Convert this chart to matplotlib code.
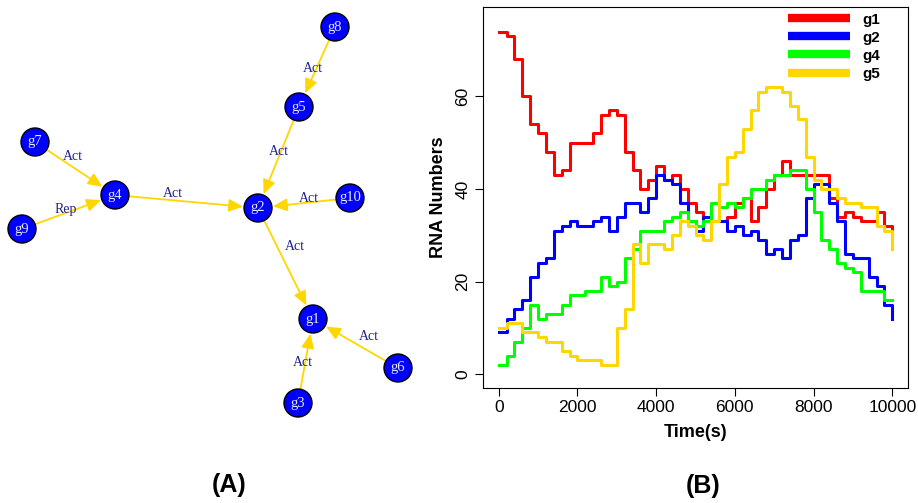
import numpy as np
import matplotlib
matplotlib.use('Agg')
import matplotlib.pyplot as plt
from matplotlib.patches import Circle, FancyArrowPatch
from matplotlib.lines import Line2D

plt.rcParams['font.family'] = 'Liberation Sans'

# ---- Panel A: regulatory network ----
nodes = ['g1', 'g2', 'g3', 'g4', 'g5', 'g6', 'g7', 'g8', 'g9', 'g10']
# layout, in pixels (x to the right, y downwards)
node_x = [313, 258, 298, 115, 299, 398, 35, 335, 22, 350]
node_y = [319, 208, 403, 195, 107, 368, 142, 27, 229, 198]

edge_src = ['g8', 'g5', 'g7', 'g9', 'g4', 'g10', 'g2', 'g6', 'g3']
edge_dst = ['g5', 'g2', 'g4', 'g4', 'g2', 'g2', 'g1', 'g1', 'g1']
edge_type = ['Act', 'Act', 'Act', 'Rep', 'Act', 'Act', 'Act', 'Act', 'Act']
# label offset from the edge midpoint
label_dx = [-4, 0, -2, -3, -14, 5, 9, 13, -3]
label_dy = [1, -6, -12, -3, -8, -5, -17, -7, 1]

# ---- Panel B: simulated RNA numbers ----
time = np.arange(0, 10001, 200)
g1 = [74, 73, 68, 60, 54, 52, 48, 43, 44, 50,
      50, 50, 52, 56, 57, 56, 48, 44, 40, 42,
      45, 42, 43, 40, 37, 35, 33, 33, 33, 34,
      37, 38, 33, 36, 40, 43, 46, 43, 43, 43,
      43, 43, 38, 34, 35, 34, 33, 33, 35, 32,
      29]
g2 = [9, 12, 14, 16, 21, 24, 25, 31, 32, 33,
      32, 32, 33, 34, 31, 34, 37, 37, 35, 38,
      43, 42, 41, 37, 33, 31, 34, 33, 33, 31,
      32, 30, 31, 29, 26, 27, 25, 29, 30, 38,
      41, 41, 37, 33, 26, 25, 25, 21, 19, 15,
      12]
g4 = [2, 4, 7, 10, 15, 12, 13, 13, 15, 17,
      17, 18, 18, 21, 19, 20, 25, 27, 31, 31,
      31, 33, 34, 35, 33, 32, 33, 37, 36, 37,
      36, 38, 40, 40, 42, 43, 43, 44, 44, 40,
      35, 29, 27, 24, 23, 22, 18, 18, 18, 16,
      16]
g5 = [10, 11, 11, 9, 9, 8, 7, 7, 5, 4,
      3, 3, 3, 2, 2, 10, 14, 28, 24, 28,
      28, 27, 30, 33, 32, 30, 29, 33, 41, 47,
      48, 53, 57, 61, 62, 62, 61, 58, 55, 47,
      42, 40, 40, 38, 37, 37, 36, 36, 32, 31,
      27]
series = {'g1': g1, 'g2': g2, 'g4': g4, 'g5': g5}
colors = {'g1': '#FF0000', 'g2': '#0000FF', 'g4': '#00FF00', 'g5': '#FFD700'}

W, H = 918, 503
fig = plt.figure(figsize=(W / 100, H / 100), dpi=100)

# network axes, 1 data unit = 1 pixel
axa = fig.add_axes((0, 0, 460 / W, 1))
axa.set_xlim(0, 460)
axa.set_ylim(H, 0)
axa.axis('off')

r = 14
pos = {n: (x, y) for n, x, y in zip(nodes, node_x, node_y)}
for s, d, t, dx, dy in zip(edge_src, edge_dst, edge_type, label_dx, label_dy):
    x0, y0 = pos[s]
    x1, y1 = pos[d]
    L = np.hypot(x1 - x0, y1 - y0)
    ux, uy = (x1 - x0) / L, (y1 - y0) / L
    arr = FancyArrowPatch((x0, y0), (x1 - ux * (r + 1), y1 - uy * (r + 1)),
                          arrowstyle='-|>,head_length=0.85,head_width=0.38',
                          mutation_scale=10, color='#FFD700', lw=1.3,
                          shrinkA=0, shrinkB=0, zorder=1)
    axa.add_patch(arr)
    axa.text((x0 + x1) / 2 + dx, (y0 + y1) / 2 + dy, t, ha='center', va='center',
             fontsize=10, color='#22228C', family='Liberation Serif', zorder=3)

for n in nodes:
    x, y = pos[n]
    axa.add_patch(Circle((x, y), r, facecolor='#0000FF', edgecolor='black',
                         lw=1.0, zorder=2))
    axa.text(x, y, n, ha='center', va='center', fontsize=10.5,
             color='#E8E8FF', family='Liberation Serif', zorder=4)

# time course axes
axb = fig.add_axes((483 / W, 1 - 388 / H, 425 / W, 381 / H))
for name, vals in series.items():
    axb.step(time, vals, where='post', color=colors[name], lw=2.2)

axb.set_xlim(-400, 10400)
axb.set_ylim(-3, 79.3)
axb.set_xticks(np.arange(0, 10001, 2000))
axb.set_yticks([0, 20, 40, 60])
axb.tick_params(length=6, width=0.8, pad=3, labelsize=12.5)
for lab in axb.get_yticklabels():
    lab.set_rotation(90)
    lab.set_va('center')
for sp in axb.spines.values():
    sp.set_linewidth(0.8)
axb.set_xlabel('Time(s)', fontsize=13, fontweight='bold', labelpad=6)
axb.set_ylabel('RNA Numbers', fontsize=13, fontweight='bold', labelpad=6)

handles = [Line2D([], [], color=colors[k], lw=6, solid_capstyle='butt')
           for k in series]
axb.legend(handles, list(series), loc='upper left', bbox_to_anchor=(0.7176, 0.9855),
           frameon=False, borderpad=0, borderaxespad=0, handlelength=4.05,
           handletextpad=0.85, labelspacing=0.27,
           prop={'weight': 'bold', 'size': 11})

fig.text(229 / W, 1 - 485 / H, '(A)', ha='center', va='center',
         fontsize=18, fontweight='bold')
fig.text(703 / W, 1 - 486 / H, '(B)', ha='center', va='center',
         fontsize=18, fontweight='bold')

fig.savefig('out.png', dpi=100, facecolor='white')
